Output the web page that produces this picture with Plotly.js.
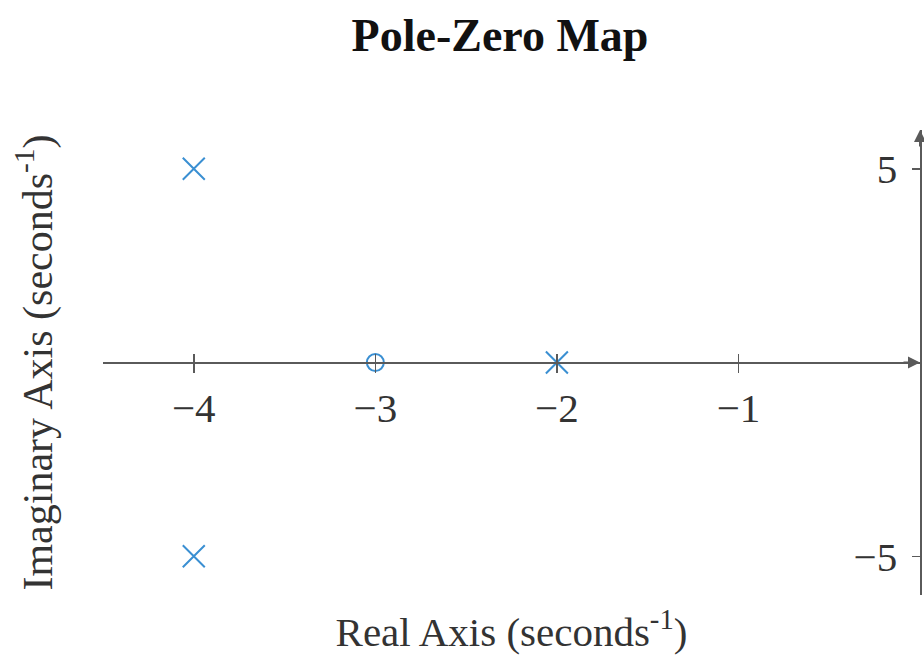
<!DOCTYPE html>
<html>
<head>
<meta charset="utf-8">
<script src="https://cdn.plot.ly/plotly-3.0.1.min.js"></script>
<style>html,body{margin:0;padding:0;background:#fff;}#chart{width:924px;height:660px;}</style>
</head>
<body>
<div id="chart"></div>
<script>
// Data
const poleRe = [-4, -4, -2];
const poleIm = [5, -5, 0];
const zeroRe = [-3];
const zeroIm = [0];
const xTicks = [-4, -3, -2, -1];
const yTicks = [-5, 5];
const xRange = [-4.5, 0];
const yRange = [-6, 6];

const blue = '#3a8fd2';
const axisCol = '#5a5a5a';
const fontFam = 'Liberation Serif, DejaVu Serif, serif';

const traces = [
  {
    x: poleRe, y: poleIm, type: 'scatter', mode: 'markers', name: 'Poles',
    marker: {symbol: 'x-thin-open', size: 22, color: blue, line: {color: blue, width: 2}},
    xaxis: 'x', yaxis: 'y', cliponaxis: false
  },
  {
    x: zeroRe, y: zeroIm, type: 'scatter', mode: 'markers', name: 'Zeros',
    marker: {symbol: 'circle-open', size: 17, color: blue, line: {color: blue, width: 2}},
    xaxis: 'x', yaxis: 'y', cliponaxis: false
  }
];

const baseX = {range: xRange, showgrid: false, zeroline: false, fixedrange: true};
const baseY = {range: yRange, showgrid: false, zeroline: false, fixedrange: true};

const layout = {
  width: 924, height: 660,
  margin: {l: 103, r: 4, t: 130, b: 65},
  paper_bgcolor: '#ffffff', plot_bgcolor: '#ffffff',
  showlegend: false,
  font: {family: fontFam, color: '#333333'},
  title: {
    text: '<b>Pole-Zero Map</b>',
    font: {family: fontFam, size: 46, color: '#111111'},
    x: 500/924, xanchor: 'center', xref: 'container',
    y: 1 - 35/660, yanchor: 'middle', yref: 'container'
  },
  xaxis: Object.assign({}, baseX, {
    showline: false, ticks: '', showticklabels: false,
    title: {text: 'Real Axis (seconds<sup>-1</sup>)', font: {family: fontFam, size: 41, color: '#333333'}, standoff: 22}
  }),
  xaxis2: Object.assign({}, baseX, {
    overlaying: 'x', anchor: 'free', position: 0.5, side: 'bottom',
    showline: true, linecolor: axisCol, linewidth: 2,
    ticks: 'outside', ticklen: 9, tickwidth: 1.5, tickcolor: axisCol,
    tickmode: 'array', tickvals: xTicks,
    tickfont: {family: fontFam, size: 41, color: '#333333'}
  }),
  xaxis3: Object.assign({}, baseX, {
    overlaying: 'x', anchor: 'free', position: 0.5, side: 'bottom',
    showline: false, ticks: 'inside', ticklen: 9, tickwidth: 1.5, tickcolor: axisCol,
    tickmode: 'array', tickvals: xTicks, showticklabels: false
  }),
  yaxis: Object.assign({}, baseY, {
    showline: false, ticks: '', showticklabels: false,
    title: {text: 'Imaginary Axis (seconds<sup>-1</sup>)', font: {family: fontFam, size: 42, color: '#333333'}, standoff: 36}
  }),
  yaxis2: Object.assign({}, baseY, {
    overlaying: 'y', anchor: 'x', side: 'right',
    showline: true, linecolor: axisCol, linewidth: 2,
    ticks: 'inside', ticklen: 8, tickwidth: 1.5, tickcolor: axisCol,
    tickmode: 'array', tickvals: yTicks,
    ticklabelposition: 'inside', ticklabelstandoff: 20,
    tickfont: {family: fontFam, size: 41, color: '#333333'}
  }),
  annotations: [
    {x: 0, y: 0, xref: 'x', yref: 'y', ax: -18, ay: 0, axref: 'pixel', ayref: 'pixel',
     text: '', showarrow: true, arrowhead: 2, arrowsize: 1.2, arrowwidth: 2, arrowcolor: axisCol},
    {x: 0, y: 6, xref: 'x', yref: 'y', ax: 0, ay: 18, axref: 'pixel', ayref: 'pixel',
     text: '', showarrow: true, arrowhead: 2, arrowsize: 1.2, arrowwidth: 2, arrowcolor: axisCol}
  ]
};

// dummy traces to activate overlay axes
traces.push({x: [], y: [], type: 'scatter', xaxis: 'x2', yaxis: 'y2', hoverinfo: 'skip', showlegend: false});
traces.push({x: [], y: [], type: 'scatter', xaxis: 'x3', yaxis: 'y', hoverinfo: 'skip', showlegend: false});

Plotly.newPlot('chart', traces, layout, {displayModeBar: false, staticPlot: true});
</script>
</body>
</html>
